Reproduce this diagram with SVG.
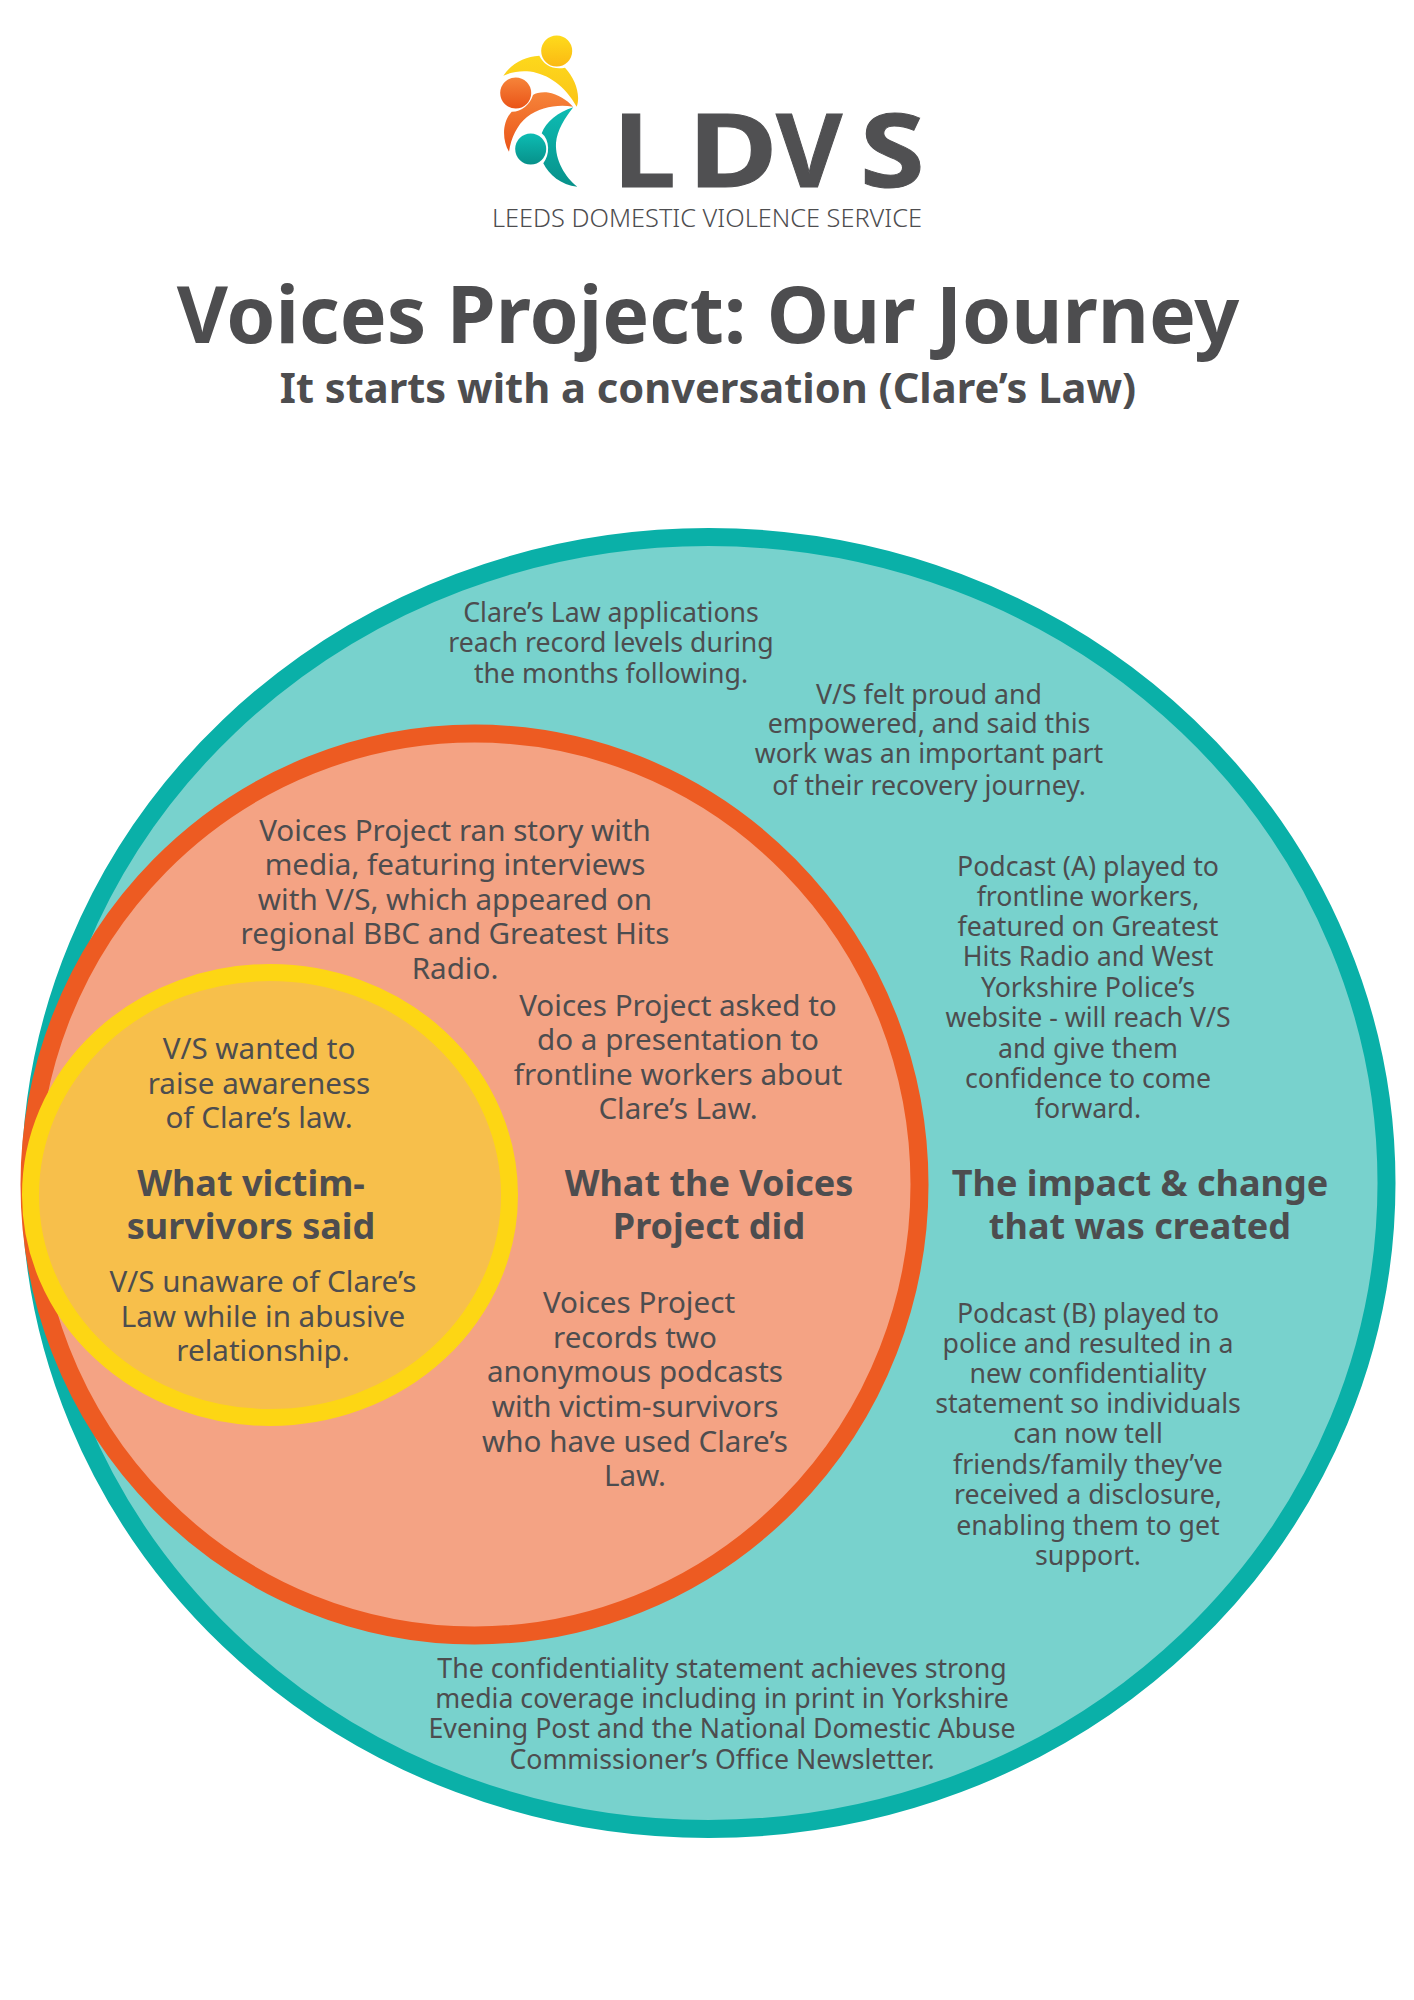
<svg xmlns="http://www.w3.org/2000/svg" width="1414" height="2000" viewBox="0 0 1414 2000">
<style>
text{font-family:"Noto Sans","Liberation Sans",sans-serif;fill:#4d4d4f;text-anchor:middle}
.t{font-size:26.7px}
.o{font-size:29.6px}
.h{font-size:36px;font-weight:700}
.l{font-weight:700;font-size:102px;text-anchor:start;fill:#505052;stroke:#505052;stroke-width:1}
</style>
<defs>
<linearGradient id="gy" x1="0" y1="0" x2="0" y2="1"><stop offset="0" stop-color="#fedb1c"/><stop offset="1" stop-color="#fbb913"/></linearGradient>
<linearGradient id="gy2" x1="0" y1="0" x2="0" y2="1"><stop offset="0" stop-color="#fdd81c"/><stop offset="1" stop-color="#fbc418"/></linearGradient>
<linearGradient id="go" x1="0" y1="0" x2="0" y2="1"><stop offset="0" stop-color="#f6843a"/><stop offset="1" stop-color="#ea5418"/></linearGradient>
<linearGradient id="gt" x1="0" y1="0" x2="0" y2="1"><stop offset="0" stop-color="#0dbcb3"/><stop offset="1" stop-color="#07918a"/></linearGradient>
</defs>
<rect width="1414" height="2000" fill="#fff"/>
<g id="logo">
<path fill="url(#gy2)" d="M503.3 75.7C512 63 525 56.5 539.3 55.7C544 65 553 70 565 67.7C575 78 581 95 576.7 106.7C565 86 548 74 530 71.5C520 70.5 511 72 503.3 75.7Z"/>
<path fill="url(#go)" d="M533 95C536 93 541 92 548 92.5C558 94 567 100 573 106.7C558 104 540 107 527 117C517 125 511 138 509 151.7C502 140 502 122 511.7 111.7C521 112 530 105 533 95Z"/>
<path fill="url(#gt)" d="M573.3 107.3C565 118 557 130 556 143C555 160 565 177 577.3 186.7C561 185 549 175 543.3 163.3C550 155 550 140 541.7 133.3C546 122 558 112 573.3 107.3Z"/>
<circle cx="556.7" cy="51" r="15.5" fill="url(#gy)"/>
<circle cx="515.7" cy="93" r="15.5" fill="url(#go)"/>
<circle cx="530.7" cy="149" r="15.5" fill="url(#gt)"/>
<text class="l" transform="translate(613 186.5) scale(1.1 1)">L</text>
<text class="l" transform="translate(688 186.5) scale(1.2 1)">D</text>
<text class="l" transform="translate(776 186.5)">V</text>
<text class="l" transform="translate(860 186.5) scale(1.15 1)">S</text>
<text x="707" y="227" font-size="26" font-weight="300" textLength="430" lengthAdjust="spacingAndGlyphs">LEEDS DOMESTIC VIOLENCE SERVICE</text>
</g>
<g id="titles">
<text x="708" y="342.5" font-size="78.8" font-weight="700">Voices Project: Our Journey</text>
<text x="708" y="403" font-size="41.6" font-weight="700">It starts with a conversation (Clare’s Law)</text>
</g>
<g id="impact">
<ellipse cx="708.5" cy="1183" rx="678" ry="646" fill="#78d2cd" stroke="#0ab0a8" stroke-width="18"/>
<text class="t"><tspan x="611" y="621.5">Clare’s Law applications</tspan><tspan x="611" y="651.5">reach record levels during</tspan><tspan x="611" y="682.5">the months following.</tspan></text>
<text class="t"><tspan x="929" y="704">V/S felt proud and</tspan><tspan x="929" y="733">empowered, and said this</tspan><tspan x="929" y="763">work was an important part</tspan><tspan x="929" y="794.5">of their recovery journey.</tspan></text>
<text class="t"><tspan x="1088" y="875.5">Podcast (A) played to</tspan><tspan x="1088" y="905.5">frontline workers,</tspan><tspan x="1088" y="936">featured on Greatest</tspan><tspan x="1088" y="966">Hits Radio and West</tspan><tspan x="1088" y="996.5">Yorkshire Police’s</tspan><tspan x="1088" y="1026.5">website - will reach V/S</tspan><tspan x="1088" y="1057.5">and give them</tspan><tspan x="1088" y="1087.5">confidence to come</tspan><tspan x="1088" y="1118">forward.</tspan></text>
<text class="h"><tspan x="1140" y="1196">The impact &amp; change</tspan><tspan x="1140" y="1239">that was created</tspan></text>
<text class="t"><tspan x="1088" y="1322.5">Podcast (B) played to</tspan><tspan x="1088" y="1352.5">police and resulted in a</tspan><tspan x="1088" y="1382.5">new confidentiality</tspan><tspan x="1088" y="1413">statement so individuals</tspan><tspan x="1088" y="1443">can now tell</tspan><tspan x="1088" y="1474">friends/family they’ve</tspan><tspan x="1088" y="1504">received a disclosure,</tspan><tspan x="1088" y="1535">enabling them to get</tspan><tspan x="1088" y="1565">support.</tspan></text>
<text class="t"><tspan x="722" y="1678">The confidentiality statement achieves strong</tspan><tspan x="722" y="1708">media coverage including in print in Yorkshire</tspan><tspan x="722" y="1738">Evening Post and the National Domestic Abuse</tspan><tspan x="722" y="1769">Commissioner’s Office Newsletter.</tspan></text>
</g>
<g id="voices">
<ellipse cx="474.5" cy="1184.5" rx="445" ry="451" fill="#f4a384" stroke="#ed5b22" stroke-width="18"/>
<text class="o"><tspan x="455" y="840.5">Voices Project ran story with</tspan><tspan x="455" y="874.5">media, featuring interviews</tspan><tspan x="455" y="909.5">with V/S, which appeared on</tspan><tspan x="455" y="943.5">regional BBC and Greatest Hits</tspan><tspan x="455" y="978.5">Radio.</tspan></text>
<text class="o"><tspan x="678" y="1015.5">Voices Project asked to</tspan><tspan x="678" y="1049.5">do a presentation to</tspan><tspan x="678" y="1084.5">frontline workers about</tspan><tspan x="678" y="1118.5">Clare’s Law.</tspan></text>
<text class="h"><tspan x="709" y="1195.5">What the Voices</tspan><tspan x="709" y="1238.5">Project did</tspan></text>
<text class="o"><tspan x="639" y="1312.5">Voices Project</tspan><tspan x="635" y="1347.5">records two</tspan><tspan x="635" y="1382">anonymous podcasts</tspan><tspan x="635" y="1417">with victim-survivors</tspan><tspan x="635" y="1452">who have used Clare’s</tspan><tspan x="635" y="1486">Law.</tspan></text>
</g>
<g id="victim">
<ellipse cx="270" cy="1195" rx="239.5" ry="222.5" fill="#f7bf4b" stroke="#fdd614" stroke-width="17"/>
<text class="o"><tspan x="259" y="1058.5">V/S wanted to</tspan><tspan x="259" y="1093.5">raise awareness</tspan><tspan x="259" y="1127.5">of Clare’s law.</tspan></text>
<text class="h"><tspan x="251" y="1196">What victim-</tspan><tspan x="251" y="1239">survivors said</tspan></text>
<text class="o"><tspan x="263" y="1291.5">V/S unaware of Clare’s</tspan><tspan x="263" y="1326.5">Law while in abusive</tspan><tspan x="263" y="1360.5">relationship.</tspan></text>
</g>
<g id="connectors"/>
</svg>
